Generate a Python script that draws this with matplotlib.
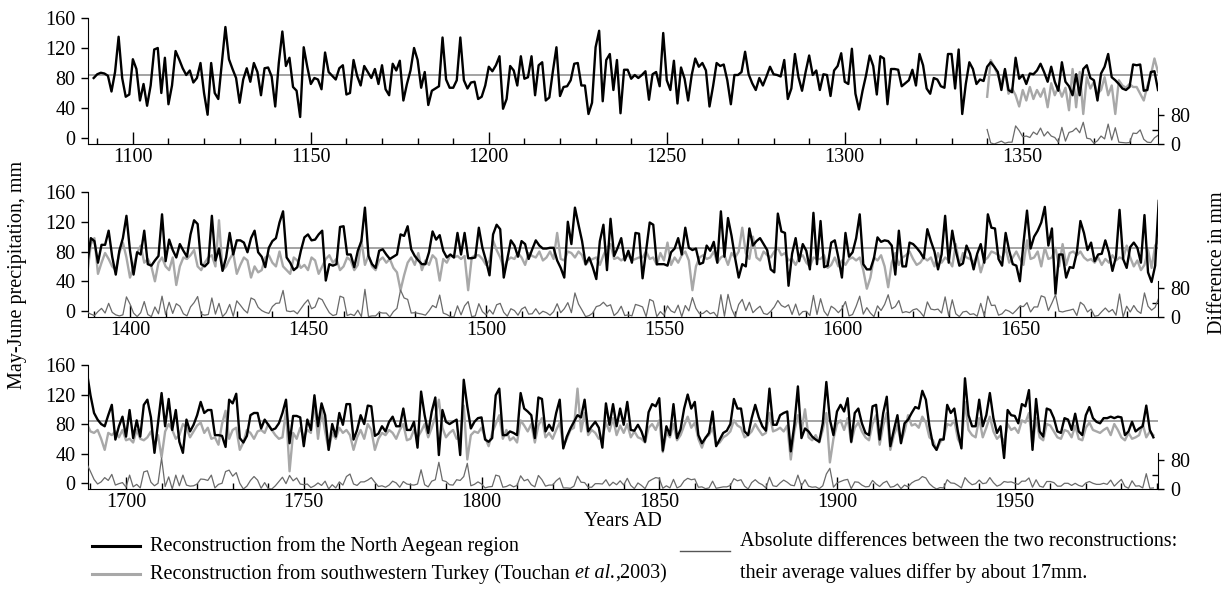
import numpy as np
import matplotlib
matplotlib.use("Agg")
import matplotlib.pyplot as plt
from matplotlib.lines import Line2D
from matplotlib.ticker import MultipleLocator

plt.rcParams["font.family"] = ["Liberation Serif", "DejaVu Serif"]
plt.rcParams["font.size"] = 14.5

MEAN = 84.5

# ---- panel 1 (1087-1388) ----
north_1_start = 1089
north_1 = [
    80, 85, 87, 86, 83, 62, 88, 135, 80, 55, 58, 105,
    92, 50, 72, 43, 70, 118, 120, 60, 107, 45,
    70, 116, 105, 93, 84, 90, 74, 80, 100, 60, 31, 100, 60, 52, 100, 148,
    105, 92, 80, 47, 78, 93, 75, 100, 88, 57, 93, 94, 82, 42, 100, 142,
    96, 107, 68, 63, 28, 121, 95, 72, 80, 78, 65, 114, 88, 83, 78, 93, 97, 58, 60, 104,
    83, 70, 96, 88, 80, 92, 72, 97, 65, 57, 99, 90,
    103, 50, 72, 90, 120, 104, 67, 88, 44, 63,
    66, 69, 134, 78, 67, 67, 77, 134, 77, 66,
    74, 75, 52, 55, 70, 95, 89, 97, 109, 39,
    52, 96, 90, 70, 109, 79, 81, 109, 57, 97,
    101, 50, 54, 89, 121, 56, 68, 69, 77, 99,
    100, 70, 70, 32, 47, 121, 143, 49, 104, 112,
    64, 104, 33, 91, 91, 79, 84, 80, 84, 89,
    51, 85, 88, 69, 140, 77, 64, 103, 46, 94,
    79, 50, 84, 106, 95, 100, 90, 42, 69, 100,
    96, 98, 77, 45, 84, 84, 88, 115, 85, 73,
    64, 80, 70, 82, 95, 85, 84, 82, 104, 52,
    66, 112, 81,
    63, 88, 110, 84, 90, 64, 85, 84, 56, 90,
    96, 113, 75, 72, 119, 59, 38, 63, 84, 110,
    96, 58, 109, 106, 45, 92, 92, 91, 69, 73,
    77, 91, 70, 112, 97, 66, 59, 80, 78, 69,
    67, 112, 112, 66, 118, 32, 72, 101, 92, 72,
    78, 76, 95, 101, 95, 88, 64, 92, 64, 61,
    107, 79, 84, 72, 86, 85, 90, 99, 88, 75,
    95, 75, 63, 101, 75, 69, 57, 85, 57, 92,
    97, 80, 77, 50, 86, 95, 112, 81, 77, 72,
    66, 64, 68, 98, 97, 98, 63, 64, 88, 89,
    64,
]
turkey_1_start = 1340
turkey_1 = [
    55, 104, 95, 84, 72, 90, 59, 66, 57, 42,
    64, 50, 68, 52, 64, 55, 66, 41, 73, 57,
    68, 55, 67, 37, 92, 41, 88, 32, 81, 66,
    75, 59, 64, 81, 57, 70, 32, 77, 70, 67,
    72, 68, 68, 59, 50, 69, 84, 106, 88,
]

# ---- panel 2 (1388-1689) ----
north_2_start = 1388
north_2 = [
    63, 98, 94, 65, 89, 89, 108, 73, 49, 81,
    98, 128, 81, 49, 79, 76, 108, 63, 61, 68,
    74, 130, 67, 96, 82, 72, 90, 81, 73, 103,
    122, 117, 63, 60, 65, 128, 68, 84, 54, 72,
    105, 76, 95, 95, 92, 79, 98, 108, 79, 73,
    59, 85, 94, 98, 119, 134, 72, 65, 55, 59,
    81, 99, 103, 95, 96, 103, 108, 41, 63, 61,
    63, 113, 114, 76, 76, 59, 81, 94, 139, 74,
    63, 58, 81, 83, 76, 70, 73, 76,
    103, 101, 114, 83, 74, 68, 63, 63, 79, 107,
    96, 102, 81, 72, 76, 72, 105, 76, 105, 71,
    71, 72, 112, 85, 68, 48, 103, 116, 110, 45,
    70, 95, 88, 73, 94, 90, 70, 83, 95, 88,
    84, 84, 85, 85, 68, 58, 45, 120, 90, 139,
    116, 94, 63, 72, 59, 43, 94, 116, 55, 124,
    74, 85, 98, 68, 81, 65, 105, 104, 44, 81,
    119, 116, 63, 63, 63, 61, 79, 84, 98, 76,
    112, 85, 82, 84, 63, 65, 88, 81, 93, 65,
    134, 73, 125, 101, 71, 45, 63, 60, 111, 88,
    94, 98, 90, 82, 56, 52, 131, 107, 105, 34,
    77, 98, 67, 90, 81, 56, 132, 63,
    121, 59, 61, 92, 95, 72, 45, 105, 73, 79,
    98, 130, 63, 56, 56, 71, 99, 93, 95, 94,
    88, 49, 108, 60, 60, 92, 90, 85, 79, 71,
    110, 94, 80, 56, 76, 128, 65, 108, 81, 61,
    64, 88, 77, 56, 77, 90, 65, 130, 112, 111,
    70, 61, 105, 81, 63, 61, 40, 91, 135, 84,
    100, 108, 119, 140, 88, 111, 23, 76, 76, 45,
    59, 58, 79, 121, 105, 82, 92, 67, 76, 77,
    95, 79, 54, 73, 136, 70, 58, 86, 92, 85,
    65, 129, 52, 39, 61, 148,
]
turkey_2_start = 1388
turkey_2 = [
    50, 90, 98, 50, 65, 78, 70, 60, 55, 78,
    92, 72, 45, 60, 78, 88, 65, 70, 60, 40,
    65, 72, 60, 55, 72, 35, 60, 72, 70, 75,
    82, 60, 55, 65, 72, 75, 60, 122, 55, 60,
    70, 78, 50, 62, 72, 68, 45, 60, 52, 55,
    72, 75, 65, 60, 80, 60, 55, 50, 72, 68,
    58, 62, 55, 72, 68, 50, 60, 70, 75, 65,
    70, 55, 60, 72, 68, 55, 62, 95, 62, 75,
    60, 55, 68, 72, 65, 70, 58, 52,
    28, 48, 65, 72, 62, 78, 55, 68, 62, 75,
    70, 41, 70, 65, 75, 72, 74, 70, 74, 28,
    72, 75, 75, 70, 62, 68, 95, 82, 72, 58,
    68, 72, 70, 78, 72, 62, 78, 74, 72, 80,
    68, 72, 80, 70, 105, 70, 68, 80, 78, 72,
    80, 75, 62, 68, 70, 72, 62, 75, 85, 90,
    70, 72, 68, 72, 75, 68, 70, 72, 72, 80,
    70, 72, 62, 78, 68, 92, 62, 72, 65, 75,
    80, 68, 28, 60, 72, 75, 70, 72, 80, 65,
    72, 75, 62, 78, 72, 80, 112, 78, 70, 100,
    72, 68, 80, 75, 72, 80, 85, 75, 78, 68,
    70, 62, 72, 75, 65, 60, 72, 70,
    70, 75, 58, 62, 72, 60, 68, 62, 70, 72,
    68, 72, 55, 30, 45, 72, 68, 75, 60, 32,
    65, 78, 62, 72, 75, 80, 70, 62, 65, 72,
    68, 72, 60, 78, 65, 72, 68, 60, 90, 62,
    78, 72, 70, 65, 75, 52, 68, 72, 80, 78,
    75, 70, 85, 65, 72, 80, 70, 62, 95, 70,
    72, 80, 60, 85, 70, 72, 85, 60, 90, 62,
    78, 80, 75, 80, 72, 68, 70, 65, 72, 62,
    70, 65, 75, 68, 72, 70, 88, 72, 60, 68,
    55, 62, 82, 58, 88, 95,
]

# ---- panel 3 (1689-1990) ----
north_3_start = 1689
north_3 = [
    150, 119, 95, 86, 80, 77, 92, 106, 59, 77,
    90, 63, 99, 61, 85, 63, 106, 113, 89, 41,
    81, 122, 77, 114, 72, 99, 56, 41, 86, 70,
    79, 92, 110, 95, 99, 99, 65, 65, 64, 49,
    113, 108, 121, 61, 55, 64, 92, 95, 95, 74,
    86, 79, 72, 74, 81, 95, 113, 54, 91, 91,
    89, 50, 86, 72, 119, 77, 108, 92, 45, 80,
    63, 95, 79, 107, 107, 59, 72, 92, 80, 105,
    104, 64, 67, 77, 70, 83, 90, 77, 77, 101,
    72,
    72, 83, 48, 124, 92, 68, 97, 116, 38, 99,
    83, 80, 83, 86, 38, 140, 104, 74, 83, 88,
    89, 59, 56, 61, 119, 128, 65, 65, 70, 68,
    65, 122, 101, 97, 92, 61, 116, 114, 70, 79,
    71, 95, 113, 47, 63, 74, 83, 92, 89, 113,
    70, 77, 83, 75, 48, 108, 79, 107, 77, 101,
    79, 110, 72, 71, 79, 70, 56, 96, 107, 104,
    115, 44, 77, 65, 107, 61, 73, 101, 120, 101,
    110, 65, 54, 61, 68, 97, 50, 59, 68, 71,
    80, 114, 101, 101, 70, 65, 88, 106, 89, 77,
    71, 128, 79, 79, 92, 95, 97, 43, 79, 131,
    61, 74, 70, 63, 59, 56, 81, 137, 86, 65,
    97, 106, 97, 115, 56, 95, 101, 81, 68, 65,
    104, 106, 59, 95, 117, 50, 72, 92, 54, 81,
    86, 95, 103, 101, 125, 113, 77, 52, 45, 59,
    59, 106, 95, 101, 70, 47, 142, 92, 77, 77,
    113, 77, 92, 122, 88, 68, 77, 34, 99, 92,
    91, 81, 107, 104, 126, 45, 114, 70, 63, 101,
    99, 88, 70, 68, 88, 86, 72, 94, 70, 65,
    92, 103, 88, 83, 81, 88, 88, 90, 88, 90,
    89, 65, 70, 83, 70, 74, 77, 105, 72, 62,
]
turkey_3_start = 1689
turkey_3 = [
    80, 70, 68, 72, 60, 45, 68, 65, 70, 62,
    72, 58, 60, 55, 72, 60, 58, 62, 70, 50,
    65, 35, 70, 80, 72, 60, 65, 80, 75, 62,
    70, 78, 82, 68, 75, 60, 62, 52, 80, 98,
    60, 72, 75, 45, 55, 72, 68, 60, 70, 72,
    68, 80, 72, 65, 60, 62, 98, 16, 68, 60,
    75, 62, 72, 68, 110, 60, 98, 70, 45, 68,
    60, 75, 68, 72, 65, 45, 62, 72, 60, 80,
    72, 45, 60, 68, 65, 72, 68, 60, 72, 80,
    58,
    60, 72, 62, 70, 80, 62, 75, 90, 113, 75,
    62, 68, 72, 60, 62, 105, 32, 65, 70, 68,
    75, 62, 50, 68, 80, 92, 60, 72, 58, 62,
    55, 85, 78, 70, 80, 55, 78, 88, 62, 68,
    60, 72, 82, 50, 60, 72, 75, 128, 70, 95,
    65, 72, 68, 60, 62, 82, 70, 88, 65, 78,
    68, 80, 62, 70, 62, 60, 55, 75, 80, 72,
    85, 42, 68, 62, 80, 58, 65, 78, 90, 75,
    82, 60, 48, 62, 65, 75, 52, 55, 62, 65,
    70, 85, 78, 75, 62, 65, 70, 80, 72, 65,
    68, 95, 70, 72, 75, 70, 78, 32, 70, 92,
    70, 100, 62, 58, 65, 55, 72, 95, 28, 60,
    80, 85, 72, 88, 55, 75, 82, 70, 62, 58,
    80, 92, 52, 78, 95, 45, 65, 78, 55, 70,
    92, 78, 80, 75, 90, 82, 62, 58, 45, 55,
    62, 80, 78, 85, 60, 50, 110, 72, 65, 62,
    88, 62, 75, 90, 70, 60, 65, 55, 80, 72,
    75, 68, 85, 82, 95, 50, 88, 62, 58, 80,
    78, 70, 62, 60, 72, 70, 62, 78, 60, 58,
    75, 82, 72, 70, 68, 72, 75, 65, 80, 72,
    62, 58, 68, 60, 62, 65, 80, 62, 70, 65,
]

x_limits = [(1087.4, 1388.0), (1388.2, 1688.8), (1689.3, 1990.3)]


def abs_diff(start_a, a, start_b, b):
    ya = np.arange(start_a, start_a + len(a))
    yb = np.arange(start_b, start_b + len(b))
    common, ia, ib = np.intersect1d(ya, yb, return_indices=True)
    return common, np.abs(np.array(a)[ia] - np.array(b)[ib])


def draw_panel(fig, rect, xlim, n_start, north, t_start, turkey):
    ax = fig.add_axes(rect)
    ax.set_xlim(*xlim)
    ax.set_ylim(-8, 160)
    ax.axhline(MEAN, color="#8a8a8a", lw=1.1, zorder=1)
    ax.plot(np.arange(t_start, t_start + len(turkey)), turkey,
            color="#a8a8a8", lw=1.7, zorder=2)
    ax.plot(np.arange(n_start, n_start + len(north)), north,
            color="black", lw=1.7, zorder=3)

    ax.spines["top"].set_visible(False)
    ax.spines["right"].set_visible(False)
    ax.xaxis.set_major_locator(MultipleLocator(50))
    ax.xaxis.set_minor_locator(MultipleLocator(10))
    ax.tick_params(axis="x", which="major", direction="in", length=9, width=1, pad=3)
    ax.tick_params(axis="x", which="minor", direction="in", length=4.5, width=1)
    ax.set_yticks([0, 40, 80, 120, 160])
    ax.tick_params(axis="y", direction="out", length=5, width=1, pad=4)

    yrs, diff = abs_diff(n_start, north, t_start, turkey)
    ax2 = ax.twinx()
    ax2.set_ylim(0, 348)
    ax2.plot(yrs, diff, color="#6a6a6a", lw=0.9)
    for side in ("top", "left", "bottom"):
        ax2.spines[side].set_visible(False)
    ax2.spines["right"].set_bounds(0, 100)
    ax2.set_yticks([0, 80])
    ax2.set_yticks([40], minor=True)
    ax2.tick_params(axis="y", which="major", direction="out", length=4, width=1, pad=5)
    ax2.tick_params(axis="y", which="minor", direction="in", length=4, width=1)
    return ax


W, H = 1229, 594
fig = plt.figure(figsize=(W / 100, H / 100), dpi=100)

panel_px = [(18, 144), (192, 317), (365, 489)]
series = [
    (north_1_start, north_1, turkey_1_start, turkey_1),
    (north_2_start, north_2, turkey_2_start, turkey_2),
    (north_3_start, north_3, turkey_3_start, turkey_3),
]
for (top, bottom), xlim, (ns, nv, ts, tv) in zip(panel_px, x_limits, series):
    rect = [88 / W, 1 - bottom / H, 1070 / W, (bottom - top) / H]
    draw_panel(fig, rect, xlim, ns, nv, ts, tv)

fig.text(18 / W, 1 - 275 / H, "May-June precipitation, mm", rotation=90,
         ha="center", va="center")
fig.text(1217 / W, 1 - 263 / H, "Difference in mm", rotation=90,
         ha="center", va="center")
fig.text(623 / W, 1 - 521 / H, "Years AD", ha="center", va="center")

# legend drawn by hand
fig.add_artist(Line2D([92 / W, 140 / W], [1 - 546 / H] * 2, color="black", lw=2.2))
fig.add_artist(Line2D([92 / W, 140 / W], [1 - 574 / H] * 2, color="#a8a8a8", lw=2.2))
fig.add_artist(Line2D([680 / W, 730 / W], [1 - 551 / H] * 2, color="#555555", lw=1))

fig.text(150 / W, 1 - 546 / H, "Reconstruction from the North Aegean region",
         ha="left", va="center")

renderer = fig.canvas.get_renderer()
x = 150
for piece, style in [("Reconstruction from southwestern Turkey (Touchan ", "normal"),
                     ("et al.", "italic"), (",2003)", "normal")]:
    t = fig.text(x / W, 1 - 574 / H, piece, ha="left", va="center", style=style)
    x = t.get_window_extent(renderer).x1

fig.text(740 / W, 1 - 541 / H, "Absolute differences between the two reconstructions:",
         ha="left", va="center")
fig.text(740 / W, 1 - 573 / H, "their average values differ by about 17mm.",
         ha="left", va="center")

fig.savefig("out.png", dpi=100)
plt.close(fig)
